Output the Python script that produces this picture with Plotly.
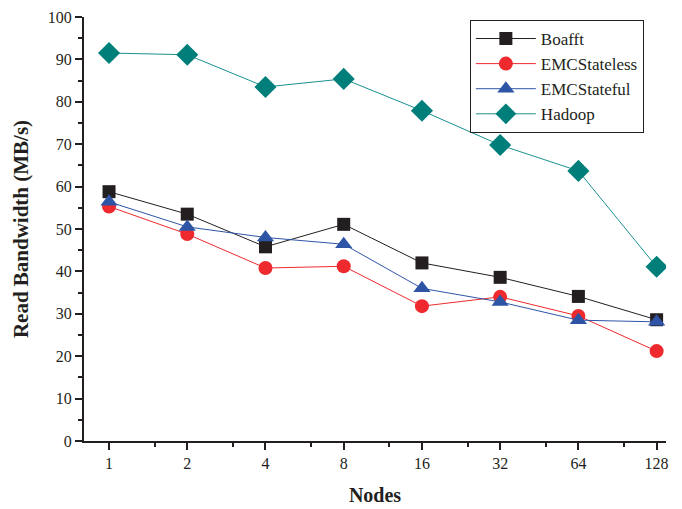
import math
import plotly.graph_objects as go

nodes = [1, 2, 4, 8, 16, 32, 64, 128]
boafft = [58.8, 53.5, 45.8, 51.1, 42.0, 38.6, 34.1, 28.6]
emc_stateless = [55.3, 48.8, 40.8, 41.2, 31.8, 34.0, 29.5, 21.2]
emc_stateful = [56.4, 50.5, 48.0, 46.4, 36.0, 32.8, 28.5, 28.1]
hadoop = [91.5, 91.1, 83.5, 85.4, 77.9, 69.8, 63.7, 41.1]

xpos = [math.log2(n) for n in nodes]
minor_x = [math.log2(1.5 * n) for n in nodes[:-1]]

series = [
    ("Boafft", boafft, "#231f20", "#231f20", "square", 13),
    ("EMCStateless", emc_stateless, "#ee2a2e", "#ee2a2e", "circle", 14),
    ("EMCStateful", emc_stateful, "#2e55a5", "#2e55a5", "triangle-up", 15),
    ("Hadoop", hadoop, "#1a9090", "#007f7a", "diamond", 17),
]

fig = go.Figure()
for name, vals, lc, mc, sym, sz in series:
    fig.add_trace(go.Scatter(
        x=xpos, y=vals, name=name, mode="lines+markers",
        line=dict(color=lc, width=1),
        marker=dict(symbol=sym, size=sz, color=mc, line=dict(width=0)),
    ))

font = "Liberation Serif, Times New Roman, serif"
fig.update_layout(
    width=674, height=501,
    margin=dict(l=76, r=16, t=9, b=68),
    paper_bgcolor="white", plot_bgcolor="white",
    font=dict(family=font, size=16, color="#231f20"),
    showlegend=True,
    legend=dict(
        x=0.663, y=0.993, xanchor="left", yanchor="top",
        bordercolor="#231f20", borderwidth=1, bgcolor="white",
        font=dict(family=font, size=17, color="#231f20"),
        tracegroupgap=0, itemwidth=60,
    ),
    xaxis=dict(
        range=[-0.32, 7.12], automargin=False,
        tickvals=xpos, ticktext=[str(n) for n in nodes],
        ticks="outside", ticklen=7, tickwidth=1.5, tickcolor="#231f20",
        showline=True, linecolor="#231f20", linewidth=2,
        showgrid=False, zeroline=False,
        minor=dict(tickvals=minor_x, ticks="outside", ticklen=4, tickwidth=1.5, tickcolor="#231f20"),
        title=dict(text="<b>Nodes</b>", font=dict(family=font, size=20), standoff=17),
        tickfont=dict(family=font, size=16),
    ),
    yaxis=dict(
        range=[0, 100], automargin=False,
        tick0=0, dtick=10, ticklabeloverflow="allow",
        ticks="outside", ticklen=7, tickwidth=1.5, tickcolor="#231f20",
        showline=True, linecolor="#231f20", linewidth=2,
        showgrid=False, zeroline=False,
        minor=dict(dtick=5, ticks="outside", ticklen=4, tickwidth=1.5, tickcolor="#231f20"),
        title=dict(text="<b>Read Bandwidth (MB/s)</b>", font=dict(family=font, size=21), standoff=13),
        tickfont=dict(family=font, size=16),
    ),
)

fig.write_html("out.html")
